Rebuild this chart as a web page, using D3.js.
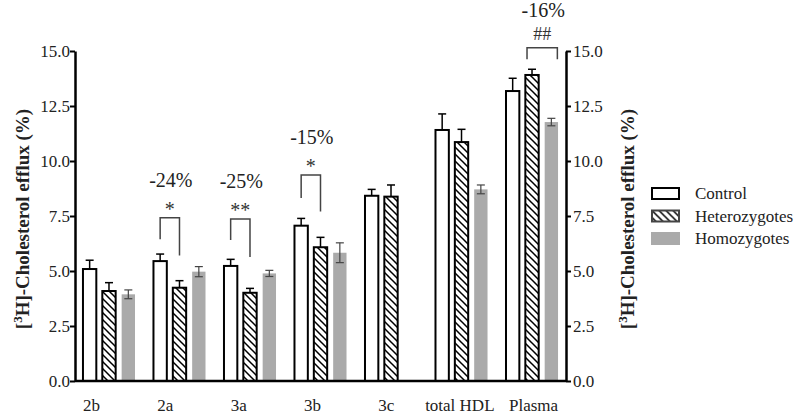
<html>
<head>
    <script src="https://d3js.org/d3.v7.min.js"></script>
</head>
<body style="margin:0; background:#fff">

<div id="chart"></div>

<script>

// data
var categories = ["2b", "2a", "3a", "3b", "3c", "total HDL", "Plasma"];
var groups = ["Control", "Heterozygotes", "Homozygotes"];
var controlMean = [5.09, 5.45, 5.23, 7.06, 8.42, 11.41, 13.18];
var controlErr  = [0.40, 0.32, 0.30, 0.33, 0.29, 0.73, 0.58];
var hetMean     = [4.09, 4.24, 4.01, 6.08, 8.38, 10.86, 13.91];
var hetErr      = [0.38, 0.32, 0.20, 0.45, 0.53, 0.58, 0.26];
var homoMean    = [3.94, 4.97, 4.89, 5.83, null, 8.71, 11.77];
var homoErr     = [0.20, 0.23, 0.14, 0.45, null, 0.20, 0.17];
var yTicks = [0, 2.5, 5, 7.5, 10, 12.5, 15];

// significance brackets (values in axis units)
var annotations = [
    {cat: "2a", from: "Control", to: "Heterozygotes", top: 7.42, leftEnd: 6.44, rightEnd: 5.71, mark: "*", pct: "-24%"},
    {cat: "3a", from: "Control", to: "Heterozygotes", top: 7.36, leftEnd: 6.41, rightEnd: 5.64, mark: "**", pct: "-25%"},
    {cat: "3b", from: "Control", to: "Heterozygotes", top: 9.36, leftEnd: 8.32, rightEnd: 7.70, mark: "*", pct: "-15%"},
    {cat: "Plasma", from: "Heterozygotes", to: "Homozygotes", top: 15.15, leftEnd: 14.62, rightEnd: 14.62, mark: "##", pct: "-16%"}
];

var width = 796, height = 418;
var plotLeft = 75, plotRight = 566, plotTop = 51, plotBottom = 381;
var grey = "#aaaaaa";
var font = "'Liberation Serif', 'Times New Roman', 'DejaVu Serif', serif";

var svg = d3.select("#chart")
    .append("svg")
    .attr("width", width)
    .attr("height", height)
    .style("font-family", font);

svg.append("rect").attr("width", width).attr("height", height).attr("fill", "#fff");

// hatch pattern
var defs = svg.append("defs");
var pat = defs.append("pattern")
    .attr("id", "hatch")
    .attr("patternUnits", "userSpaceOnUse")
    .attr("width", 7)
    .attr("height", 7);
pat.append("path")
    .attr("d", "M-1,-1 L8,8 M-1,6 L1,8 M6,-1 L8,1")
    .attr("stroke", "#000")
    .attr("stroke-width", 1.5);

var x0 = d3.scaleBand()
    .domain(categories)
    .range([plotLeft, plotRight])
    .paddingInner(0.262)
    .paddingOuter(0.113);

var x1 = d3.scaleBand()
    .domain(groups)
    .range([0, x0.bandwidth()])
    .paddingInner(0.31);

var y = d3.scaleLinear()
    .domain([0, 15])
    .range([plotBottom, plotTop]);

// label positions along the x axis
var xLab = d3.scalePoint()
    .domain(categories)
    .range([91, 533]);

var series = {
    "Control": {mean: controlMean, err: controlErr},
    "Heterozygotes": {mean: hetMean, err: hetErr},
    "Homozygotes": {mean: homoMean, err: homoErr}
};

var rows = [];
groups.forEach(function(g) {
    categories.forEach(function(c, i) {
        if (series[g].mean[i] != null) {
            rows.push({cat: c, group: g, v: series[g].mean[i], e: series[g].err[i]});
        }
    });
});

function fillFor(g) {
    if (g == "Control") return "#fff";
    if (g == "Heterozygotes") return "url(#hatch)";
    return grey;
}

var bw = x1.bandwidth();

// error bars for control / heterozygotes (bars hide the lower half)
var eb = svg.append("g");
rows.filter(function(d) { return d.group != "Homozygotes"; }).forEach(function(d) {
    var cx = x0(d.cat) + x1(d.group) + bw / 2;
    eb.append("line")
        .attr("x1", cx).attr("x2", cx)
        .attr("y1", y(d.v)).attr("y2", y(d.v + d.e))
        .attr("stroke", "#000").attr("stroke-width", 1.5);
    eb.append("line")
        .attr("x1", cx - 4).attr("x2", cx + 4)
        .attr("y1", y(d.v + d.e)).attr("y2", y(d.v + d.e))
        .attr("stroke", "#000").attr("stroke-width", 1.5);
});

// bars
svg.append("g")
    .selectAll("rect")
    .data(rows.filter(function(d) { return d.group != "Homozygotes"; }))
    .enter()
    .append("rect")
    .attr("x", function(d) { return x0(d.cat) + x1(d.group); })
    .attr("y", function(d) { return y(d.v); })
    .attr("width", bw)
    .attr("height", function(d) { return plotBottom - y(d.v); })
    .attr("fill", function(d) { return fillFor(d.group); })
    .attr("stroke", "#000")
    .attr("stroke-width", 2);

svg.append("g")
    .selectAll("rect")
    .data(rows.filter(function(d) { return d.group == "Homozygotes"; }))
    .enter()
    .append("rect")
    .attr("x", function(d) { return x0(d.cat) + x1(d.group); })
    .attr("y", function(d) { return y(d.v); })
    .attr("width", bw)
    .attr("height", function(d) { return plotBottom - y(d.v); })
    .attr("fill", grey);

// homozygote whiskers drawn over the grey fill
rows.filter(function(d) { return d.group == "Homozygotes"; }).forEach(function(d) {
    var cx = x0(d.cat) + x1(d.group) + bw / 2;
    svg.append("line")
        .attr("x1", cx).attr("x2", cx)
        .attr("y1", y(d.v - d.e)).attr("y2", y(d.v + d.e))
        .attr("stroke", "#444").attr("stroke-width", 1.2);
    [d.v - d.e, d.v + d.e].forEach(function(v) {
        svg.append("line")
            .attr("x1", cx - 4).attr("x2", cx + 4)
            .attr("y1", y(v)).attr("y2", y(v))
            .attr("stroke", "#444").attr("stroke-width", 1.2);
    });
});

// axes
var yl = svg.append("g")
    .attr("transform", "translate(" + plotLeft + ",0)")
    .call(d3.axisLeft(y).tickValues(yTicks).tickFormat(d3.format(".1f")).tickSize(5).tickSizeOuter(0));
var yr = svg.append("g")
    .attr("transform", "translate(" + plotRight + ",0)")
    .call(d3.axisRight(y).tickValues(yTicks).tickFormat(d3.format(".1f")).tickSize(5).tickSizeOuter(0));
[yl, yr].forEach(function(a) {
    a.attr("font-family", null);
    a.select(".domain").attr("stroke", "#000").attr("stroke-width", 2.5);
    a.selectAll(".tick line").attr("stroke", "#000").attr("stroke-width", 2);
    a.selectAll(".tick text")
        .style("font-family", font)
        .style("font-size", "17px")
        .attr("fill", "#222");
});
yl.selectAll(".tick text").attr("x", -5);
yr.selectAll(".tick text").attr("x", 7);

// x baseline
svg.append("line")
    .attr("x1", plotLeft).attr("x2", plotRight)
    .attr("y1", plotBottom).attr("y2", plotBottom)
    .attr("stroke", "#000").attr("stroke-width", 2.5);

var xa = svg.append("g")
    .attr("transform", "translate(0," + (plotBottom + 15) + ")")
    .call(d3.axisBottom(xLab).tickSize(0));
xa.attr("font-family", null);
xa.select(".domain").remove();
xa.selectAll(".tick text")
    .style("font-family", font)
    .style("font-size", "17px")
    .attr("fill", "#222");

// axis titles
function yTitle(cx) {
    var t = svg.append("text")
        .attr("transform", "translate(" + cx + "," + ((plotTop + plotBottom) / 2 + 3) + ") rotate(-90)")
        .attr("text-anchor", "middle")
        .attr("dy", "0.35em")
        .style("font-size", "19px")
        .style("font-weight", "bold")
        .attr("fill", "#222");
    t.append("tspan").text("[");
    t.append("tspan").text("3").attr("baseline-shift", "super").style("font-size", "13px");
    t.append("tspan").text("H]-Cholesterol efflux (%)");
}
yTitle(22);
yTitle(627);

// brackets
var ann = svg.append("g");
annotations.forEach(function(a) {
    var xa1 = x0(a.cat) + x1(a.from) + bw / 2;
    var xa2 = x0(a.cat) + x1(a.to) + bw / 2;
    if (a.mark == "##") { xa1 -= 5; xa2 += 6; }
    ann.append("path")
        .attr("d", "M" + xa1 + "," + y(a.leftEnd) + "V" + y(a.top) + "H" + xa2 + "V" + y(a.rightEnd))
        .attr("fill", "none")
        .attr("stroke", "#444")
        .attr("stroke-width", 1.5);
    var mx = (xa1 + xa2) / 2;
    ann.append("text")
        .attr("x", mx)
        .attr("y", y(a.top) - (a.mark == "##" ? 8 : 2))
        .attr("text-anchor", "middle")
        .style("font-size", a.mark == "##" ? "18px" : "20px")
        .attr("fill", "#333")
        .text(a.mark);
    ann.append("text")
        .attr("x", mx + 1)
        .attr("y", y(a.top) - 31)
        .attr("text-anchor", "middle")
        .style("font-size", "20px")
        .attr("fill", "#222")
        .text(a.pct);
});

// legend
var lg = svg.append("g").attr("transform", "translate(651,187)");
groups.forEach(function(g, i) {
    var row = lg.append("g").attr("transform", "translate(0," + (i * 22.5) + ")");
    if (g == "Homozygotes") {
        row.append("rect").attr("width", 29).attr("height", 13).attr("fill", grey);
    } else {
        row.append("rect")
            .attr("x", 1).attr("y", 1)
            .attr("width", 27).attr("height", 11)
            .attr("fill", fillFor(g))
            .attr("stroke", g == "Control" ? "#000" : "#444")
            .attr("stroke-width", 2);
    }
    row.append("text")
        .attr("x", 44).attr("y", 6.5)
        .attr("dy", "0.35em")
        .style("font-size", "17px")
        .attr("fill", "#222")
        .text(g);
});

</script>

</body>
</html>
